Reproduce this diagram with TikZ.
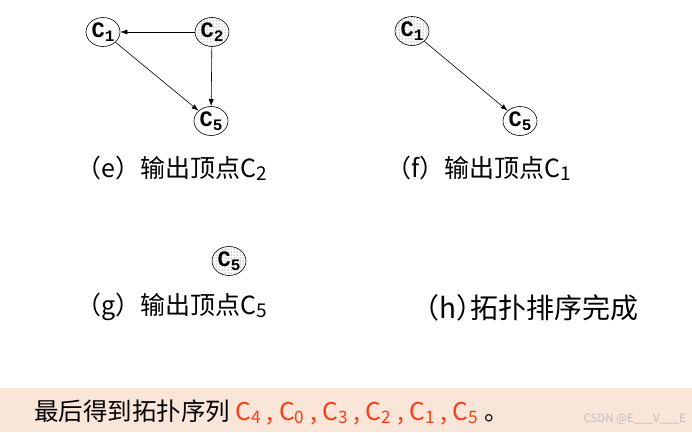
\documentclass[tikz,border=0pt]{standalone}
\usepackage{fontspec}
\setmainfont{Liberation Serif}
\newfontfamily\cjkfont{Noto Sans CJK SC}
\newfontfamily\cjkhalt{Noto Sans CJK SC}[RawFeature=+halt]
\newfontfamily\vxfont{Liberation Mono}
\usepackage{xcolor}
\usetikzlibrary{arrows.meta,positioning,shapes.geometric,patterns}

\definecolor{bandpeach}{RGB}{250,229,217}
\definecolor{seqred}{RGB}{246,62,22}

% vertex name C with a lowered digit
\newcommand{\vx}[1]{C\raisebox{-3.5pt}{\fontsize{16}{16}\selectfont #1}}
\newcommand{\capc}[1]{C\raisebox{-3pt}{\fontsize{19}{19}\selectfont #1}}
\newcommand{\seqc}[1]{C\textsubscript{#1}}

\begin{document}
\begin{tikzpicture}[
    x=1pt, y=-1pt,
    vertex/.style={
        ellipse,
        draw=black,
        line width=0.6pt,
        minimum width=34pt,
        minimum height=29pt,
        inner sep=0pt,
        font=\vxfont\bfseries\fontsize{22}{22}\selectfont
    },
    output/.style={
        vertex,
        pattern=dots,
        pattern color=black!75
    },
    arrow/.style={-{Latex[length=7pt,width=5pt]}, line width=0.6pt},
    caption/.style={anchor=west, inner sep=0pt, font=\cjkfont\fontsize{25}{25}\selectfont}
]
\useasboundingbox (0,0) rectangle (692,432);

% =========================================
% (e) output vertex C2
% =========================================
\node[vertex] (e1) at (103,32) {\vx{1}};
\node[output] (e2) at (212,32) {\vx{2}};
\node[vertex] (e5) at (211,121) {\vx{5}};
\node[caption] (capE) at (76,168) {（e）输出顶点\capc{2}};

\draw[arrow] (e2) -- (e1);
\draw[arrow] (e1) -- (e5);
\draw[arrow] (e2) -- (e5);

% =========================================
% (f) output vertex C1
% =========================================
\node[output] (f1) at (412,31) {\vx{1}};
\node[vertex] (f5) at (520,121) {\vx{5}};
\node[caption] (capF) at (386,168) {（f）输出顶点\capc{1}};

\draw[arrow] (f1) -- (f5);

% =========================================
% (g) output vertex C5, (h) done
% =========================================
\node[output] (g5) at (229,261) {\vx{5}};
\node[caption] (capG) at (76,307) {（g）输出顶点\capc{5}};
\node[caption, font=\cjkhalt\fontsize{28}{28}\selectfont] (capH) at (425,308) {（h）拓扑排序完成};

% =========================================
% Result band
% =========================================
\fill[bandpeach] (0,388) rectangle (692,432);
\node[anchor=west, inner sep=0pt, font=\cjkfont\fontsize{24.5}{24.5}\selectfont] (result) at (34,412) {%
    最后得到拓扑序列 \textcolor{seqred}{\seqc{4} , \seqc{0} , \seqc{3} , \seqc{2} , \seqc{1} , \seqc{5}} 。};
\node[anchor=east, inner sep=0pt, text=black!25, font=\cjkfont\fontsize{11.5}{11.5}\selectfont] (mark) at (686,419) {CSDN @E\_\_\_V\_\_\_E};

\end{tikzpicture}
\end{document}
